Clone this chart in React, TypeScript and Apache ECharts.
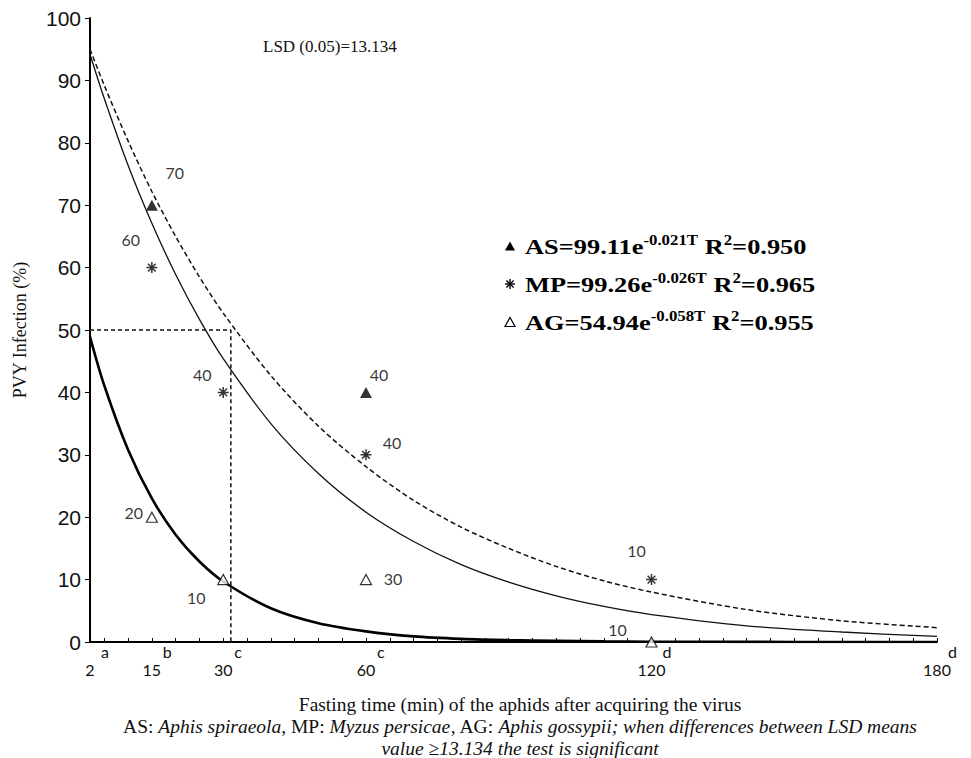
import React, { useEffect, useRef } from 'react';
import * as echarts from 'echarts';

// Fitted curve values (fasting time in min -> PVY infection %)
const curveTimes = [2, 5, 10, 15, 20, 25, 30, 40, 50, 60, 70, 80, 90, 100, 110, 120, 140, 160, 180];
const asCurve = [95.0, 89.2, 80.3, 72.2, 65.0, 58.5, 52.7, 42.7, 34.6, 28.1, 22.7, 18.4, 15.0, 12.1, 9.8, 8.0, 5.2, 3.4, 2.3];
const mpCurve = [94.2, 87.1, 76.4, 67.1, 58.9, 51.7, 45.4, 35.0, 27.0, 20.8, 16.1, 12.4, 9.6, 7.4, 5.7, 4.4, 2.6, 1.6, 0.9];
const agCurve = [48.9, 41.1, 30.8, 23.0, 17.2, 12.9, 9.7, 5.4, 3.0, 1.7, 0.9, 0.5, 0.3, 0.2, 0.1, 0.05, 0.02, 0, 0];

// Observed points
const asTimes = [15, 60];
const asValues = [70, 40];
const asLabels = ['70', '40'];
const mpTimes = [15, 30, 60, 120];
const mpValues = [60, 40, 30, 10];
const mpLabels = ['60', '40', '40', '10'];
const agTimes = [15, 30, 60, 120];
const agValues = [20, 10, 10, 0];
const agLabels = ['20', '10', '30', '10'];

// 50% reference
const refTime = 31.6;
const refInfection = 50;

// Axis ticks
const xTickLabels = [2, 15, 30, 60, 120, 180];
const xTickLetters = ['a', 'b', 'c', 'c', 'd', 'd'];
const xMinorTicks = [2, 5, 10, 15, 20, 25, 30, 35, 40, 45, 50, 55, 60, 65, 70, 75, 80, 85, 90, 95, 100, 105, 110, 115, 120, 125, 130, 135, 140, 145, 150, 155, 160, 165, 170, 175, 180];

// Legend equations
const legendNames = ['AS', 'MP', 'AG'];
const legendBase = ['AS=99.11e', 'MP=99.26e', 'AG=54.94e'];
const legendExp = ['-0.021T', '-0.026T', '-0.058T'];
const legendR2 = ['=0.950', '=0.965', '=0.955'];

// label offsets (styling only)
const asLabelOffsets = [[23, -33], [13, -18]];
const mpLabelOffsets = [[-21, -28], [-21, -18], [26, -12], [-15, -29]];
const agLabelOffsets = [[-18, -5], [-27, 18], [27, -1], [-34, -13]];

const STAR = 'path://M5,0L5,10M0,5L10,5M1.5,1.5L8.5,8.5M8.5,1.5L1.5,8.5';
const SERIF = '"Liberation Serif", "Times New Roman", serif';
const SANS = '"Liberation Sans", Arial, sans-serif';
const CAL = 'Lato, "Open Sans", sans-serif';

const pointLabel = (text: string, off: number[]) => ({
  show: true,
  position: 'inside',
  formatter: text,
  offset: off,
  fontFamily: CAL,
  fontSize: 16,
  color: '#000',
});

const legendIcon = (name: string, cx: number, cy: number): any => {
  if (name === 'MP') {
    const r = 5;
    const d = 3.6;
    const ls = { stroke: '#000', lineWidth: 1.4 };
    return {
      type: 'group',
      children: [
        { type: 'line', shape: { x1: cx, y1: cy - r, x2: cx, y2: cy + r }, style: ls },
        { type: 'line', shape: { x1: cx - r, y1: cy, x2: cx + r, y2: cy }, style: ls },
        { type: 'line', shape: { x1: cx - d, y1: cy - d, x2: cx + d, y2: cy + d }, style: ls },
        { type: 'line', shape: { x1: cx + d, y1: cy - d, x2: cx - d, y2: cy + d }, style: ls },
      ],
    };
  }
  const filled = name === 'AS';
  return {
    type: 'polygon',
    shape: { points: [[cx - 5, cy + 4.5], [cx + 5, cy + 4.5], [cx, cy - 4.5]] },
    style: filled ? { fill: '#000' } : { fill: '#fff', stroke: '#000', lineWidth: 1.2 },
  };
};

export default function App() {
  const ref = useRef<HTMLDivElement>(null);
  useEffect(() => {
    if (!ref.current) return;
    const chart = echarts.init(ref.current, undefined, { renderer: 'svg' });
    const line = (arr: number[]) => curveTimes.map((t, i) => [t, arr[i]]);

    const legendGraphics: any[] = [];
    legendNames.forEach((name, i) => {
      const cy = 246 + 38 * i;
      legendGraphics.push(legendIcon(name, 510, cy));
      legendGraphics.push({
        type: 'text',
        x: 525,
        y: cy,
        scaleX: 1.2,
        style: {
          text: `{m|${legendBase[i]}}{s|${legendExp[i]}}{m| R}{s|2}{m|${legendR2[i]}}`,
          verticalAlign: 'middle',
          rich: {
            m: { fontFamily: SERIF, fontWeight: 'bold', fontSize: 22, lineHeight: 26, fill: '#000' },
            s: { fontFamily: SERIF, fontWeight: 'bold', fontSize: 14, lineHeight: 14, verticalAlign: 'top', fill: '#000' },
          },
        },
      });
    });

    const option: any = {
      animation: false,
      backgroundColor: '#fff',
      grid: { left: 90, right: 34, top: 18, bottom: 116 },
      title: {
        text: 'LSD (0.05)=13.134',
        left: 258,
        top: 33,
        textStyle: { fontFamily: SERIF, fontSize: 17, fontWeight: 'normal', color: '#111' },
      },
      xAxis: [
        {
          type: 'value',
          min: 2,
          max: 180,
          axisLine: { show: true, lineStyle: { color: '#000', width: 2 } },
          axisTick: { show: true, inside: true, length: 4, customValues: xMinorTicks, lineStyle: { color: '#000', width: 1 } },
          axisLabel: { customValues: xTickLabels, fontFamily: CAL, fontSize: 16, color: '#111', margin: 19 },
          splitLine: { show: false },
        },
        {
          type: 'value',
          min: 2,
          max: 180,
          position: 'bottom',
          axisLine: { show: false },
          axisTick: { show: false },
          axisLabel: {
            customValues: xTickLabels,
            formatter: (v: number) => xTickLetters[xTickLabels.indexOf(v)] ?? '',
            fontFamily: CAL,
            fontSize: 16,
            color: '#111',
            margin: 1,
            align: 'left',
            padding: [0, 0, 0, 11],
          },
          splitLine: { show: false },
        },
      ],
      yAxis: {
        type: 'value',
        min: 0,
        max: 100,
        interval: 10,
        name: 'PVY Infection (%)',
        nameLocation: 'middle',
        nameGap: 61,
        nameTextStyle: { fontFamily: SERIF, fontSize: 18, color: '#111' },
        axisLine: { show: true, lineStyle: { color: '#000', width: 2 } },
        axisTick: { show: true, inside: false, length: 5, lineStyle: { color: '#000' } },
        axisLabel: { fontFamily: SANS, fontSize: 21, color: '#111', margin: 9 },
        splitLine: { show: false },
      },
      graphic: [
        ...legendGraphics,
        {
          type: 'text',
          x: 520,
          y: 704,
          style: {
            text: 'Fasting time (min) of the aphids after acquiring the virus',
            font: `19.5px ${SERIF}`,
            fill: '#111',
            align: 'center',
            verticalAlign: 'middle',
          },
        },
        {
          type: 'text',
          x: 520,
          y: 726,
          style: {
            text: '{n|AS: }{i|Aphis spiraeola}{n|, MP: }{i|Myzus persicae}{n|, AG: }{i|Aphis gossypii; when differences between LSD means}',
            align: 'center',
            verticalAlign: 'middle',
            rich: {
              n: { fontFamily: SERIF, fontSize: 19.5, fill: '#111' },
              i: { fontFamily: SERIF, fontSize: 19.5, fontStyle: 'italic', fill: '#111' },
            },
          },
        },
        {
          type: 'text',
          x: 520,
          y: 748,
          style: {
            text: 'value ≥13.134 the test is significant',
            font: `italic 19.5px ${SERIF}`,
            fill: '#111',
            align: 'center',
            verticalAlign: 'middle',
          },
        },
      ],
      series: [
        {
          name: 'AS fit',
          type: 'line',
          data: line(asCurve),
          showSymbol: false,
          smooth: 0.3,
          lineStyle: { color: '#111', width: 1.5, type: [5, 3] },
          z: 2,
        },
        {
          name: 'MP fit',
          type: 'line',
          data: line(mpCurve),
          showSymbol: false,
          smooth: 0.3,
          lineStyle: { color: '#111', width: 1.3 },
          z: 2,
        },
        {
          name: 'AG fit',
          type: 'line',
          data: line(agCurve),
          showSymbol: false,
          smooth: 0.3,
          lineStyle: { color: '#000', width: 2.6 },
          z: 2,
        },
        {
          name: 'ref',
          type: 'line',
          data: [[2, refInfection], [refTime, refInfection], [refTime, 0]],
          showSymbol: false,
          lineStyle: { color: '#111', width: 1.5, type: [4, 3] },
          z: 2,
        },
        {
          name: 'AS',
          type: 'scatter',
          symbol: 'triangle',
          symbolSize: [12, 11],
          itemStyle: { color: '#000' },
          clip: false,
          z: 5,
          data: asTimes.map((t, i) => ({ value: [t, asValues[i]], label: pointLabel(asLabels[i], asLabelOffsets[i]) })),
        },
        {
          name: 'MP',
          type: 'scatter',
          symbol: STAR,
          symbolSize: 11,
          itemStyle: { color: 'rgba(0,0,0,0)', borderColor: '#000', borderWidth: 1.5 },
          clip: false,
          z: 5,
          data: mpTimes.map((t, i) => ({ value: [t, mpValues[i]], label: pointLabel(mpLabels[i], mpLabelOffsets[i]) })),
        },
        {
          name: 'AG',
          type: 'scatter',
          symbol: 'triangle',
          symbolSize: [11, 10],
          itemStyle: { color: '#fff', borderColor: '#000', borderWidth: 1.2 },
          clip: false,
          z: 5,
          data: agTimes.map((t, i) => ({ value: [t, agValues[i]], label: pointLabel(agLabels[i], agLabelOffsets[i]) })),
        },
      ],
    };
    chart.setOption(option);
    return () => chart.dispose();
  }, []);
  return <div ref={ref} style={{ position: 'fixed', left: 0, top: 0, width: 971, height: 758, background: '#fff' }} />;
}
